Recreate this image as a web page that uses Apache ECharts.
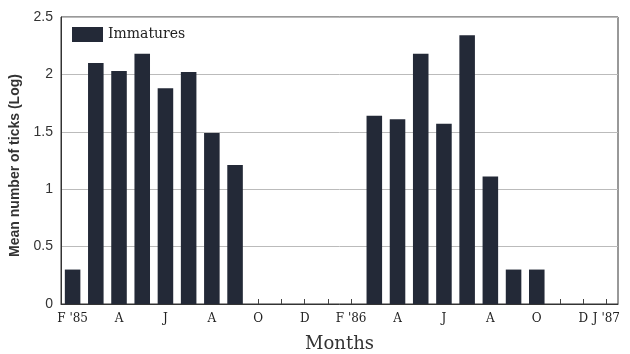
<!DOCTYPE html>
<html>
<head>
<meta charset="utf-8">
<script src="https://cdn.jsdelivr.net/npm/echarts@6/dist/echarts.min.js"></script>
<style>
  html, body { margin: 0; padding: 0; background: #fff; }
  #chart { width: 630px; height: 354px; }
</style>
</head>
<body>
<div id="chart"></div>
<script>
// Monthly samples, Feb 1985 through Jan 1987
const months = [
  'Feb 85', 'Mar 85', 'Apr 85', 'May 85', 'Jun 85', 'Jul 85', 'Aug 85', 'Sep 85',
  'Oct 85', 'Nov 85', 'Dec 85', 'Jan 86', 'Feb 86', 'Mar 86', 'Apr 86', 'May 86',
  'Jun 86', 'Jul 86', 'Aug 86', 'Sep 86', 'Oct 86', 'Nov 86', 'Dec 86', 'Jan 87'
];
// Axis labels shown under the months (blank = unlabelled month)
const tickLabels = [
  "F '85", '', 'A', '', 'J', '', 'A', '', 'O', '', 'D', '', "F '86", '', 'A', '',
  'J', '', 'A', '', 'O', '', 'D', "J '87"
];
// Mean number of ticks (log) — immature stages
const immatures = [
  0.30, 2.10, 2.03, 2.18, 1.88, 2.02, 1.49, 1.21,
  0, 0, 0, 0, 0, 1.64, 1.61, 2.18,
  1.57, 2.34, 1.11, 0.30, 0.30, 0, 0, 0
];
const yTicks = { min: 0, max: 2.5, step: 0.5 };

const chart = echarts.init(document.getElementById('chart'));
chart.setOption({
  animation: false,
  grid: {
    left: 61, right: 12, top: 17, bottom: 50,
    outerBoundsMode: 'none',
    containLabel: false,
    show: true, borderColor: '#333', borderWidth: 1
  },
  legend: {
    left: 67, top: 22,
    icon: 'rect',
    itemWidth: 31, itemHeight: 15, itemGap: 8,
    textStyle: { fontFamily: 'DejaVu Serif', fontSize: 14, color: '#222' },
    data: ['Immatures']
  },
  xAxis: {
    type: 'category',
    data: months,
    name: 'Months',
    nameLocation: 'middle',
    nameGap: 31,
    nameTextStyle: { fontFamily: 'DejaVu Serif', fontSize: 18, color: '#333' },
    axisLine: { lineStyle: { color: '#333' } },
    axisTick: { show: true, alignWithLabel: true, inside: true, length: 5, interval: 0, lineStyle: { color: '#444', width: 1 } },
    axisLabel: {
      interval: 0,
      margin: 9,
      fontFamily: 'DejaVu Serif', fontSize: 12, color: '#222',
      formatter: (v, i) => tickLabels[i]
    }
  },
  yAxis: {
    type: 'value',
    min: yTicks.min, max: yTicks.max, interval: yTicks.step,
    name: 'Mean number of ticks (Log)',
    nameLocation: 'middle',
    nameGap: 31,
    nameTextStyle: {
      fontFamily: 'Liberation Sans', fontWeight: 'bold', fontSize: 14, color: '#333',
      padding: [0, 10, 0, 0]
    },
    axisLine: { show: true, lineStyle: { color: '#333' } },
    axisTick: { show: false },
    axisLabel: { fontFamily: 'Liberation Sans', fontSize: 14, color: '#333', margin: 8 },
    splitLine: { lineStyle: { color: '#bbb', width: 1 } }
  },
  series: [{
    name: 'Immatures',
    type: 'bar',
    data: immatures,
    barWidth: '67%',
    itemStyle: { color: '#232937' }
  }]
});
</script>
</body>
</html>
